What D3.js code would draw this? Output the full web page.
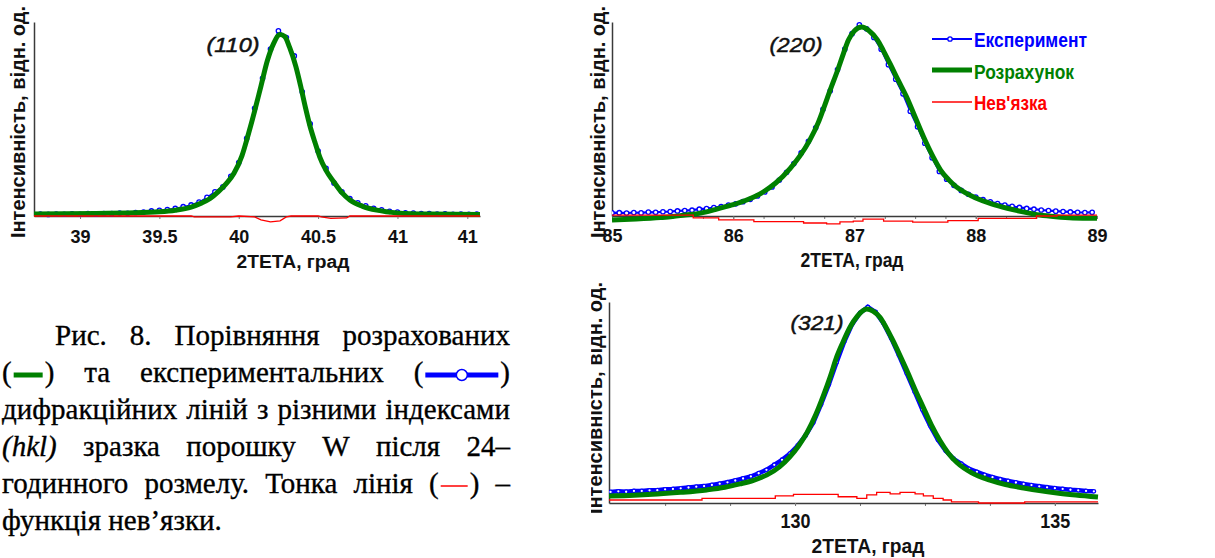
<!DOCTYPE html>
<html>
<head>
<meta charset="utf-8">
<script src="https://cdn.jsdelivr.net/npm/d3@7"></script>
<style>
body { margin: 0; background: #fff; }
svg { display: block; }
</style>
</head>
<body>
<svg id="fig" width="1215" height="558"></svg>
<script>
// Data: [2theta, intensity] with 0 = axis line, 100 = top of y axis

// (110) peak
var calc110 = [[38.71,1.0],[38.9,1.1],[39.1,1.3],[39.3,1.6],[39.5,2.2],[39.6,3.0],[39.7,4.6],[39.76,6.5],[39.82,9.0],[39.87,12.4],[39.92,16.5],[39.97,22],[40.02,31],[40.06,42],[40.1,54],[40.14,67],[40.18,80],[40.22,89],[40.26,93.5],[40.29,92.5],[40.32,87],[40.36,77],[40.39,67],[40.42,56],[40.45,46],[40.48,38],[40.51,30.5],[40.55,23.5],[40.6,17.5],[40.65,12],[40.7,8.2],[40.78,5.0],[40.87,3.0],[41.0,1.6],[41.2,1.0],[41.52,0.8]];
var exp110 = [[38.75,1.0],[38.80,0.8],[38.85,1.0],[38.90,0.9],[38.95,1.1],[39.00,0.9],[39.05,1.2],[39.10,1.0],[39.15,1.3],[39.20,1.2],[39.25,1.5],[39.30,1.4],[39.35,1.8],[39.40,2.0],[39.45,2.6],[39.50,2.9],[39.55,3.3],[39.60,3.9],[39.65,4.8],[39.70,5.7],[39.75,7.2],[39.80,9.6],[39.85,12.5],[39.90,15.0],[39.95,20.5],[40.00,27.5],[40.05,40.0],[40.10,55.5],[40.15,71.0],[40.20,86.0],[40.25,95.5],[40.30,92.0],[40.35,82.5],[40.40,64.0],[40.45,47.5],[40.50,33.5],[40.55,24.5],[40.60,17.0],[40.65,12.5],[40.70,9.0],[40.75,6.8],[40.80,5.2],[40.85,4.0],[40.90,3.2],[40.95,2.4],[41.00,2.0],[41.05,1.6],[41.10,1.5],[41.15,1.2],[41.20,1.3],[41.25,1.0],[41.30,1.1],[41.35,0.9],[41.40,1.0],[41.45,0.9],[41.50,1.0]];
var res110 = [[38.71,0],[39.7,0],[39.72,-0.5],[39.95,-0.5],[40.0,0],[40.1,-0.5],[40.14,-2],[40.2,-3],[40.26,-2.5],[40.3,-0.5],[40.33,0],[40.5,0],[40.52,-0.5],[40.58,-1.2],[40.68,-1],[40.7,0],[41.52,0]];
var ticks110 = [39, 39.5, 40, 40.5, 41, 41.44];
var tickLabels110 = ["39", "39.5", "40", "40.5", "41", "41"];

// (220) peak
var calc220 = [[85.0,-2.0],[85.2,-1.5],[85.4,-0.8],[85.5,-0.3],[85.6,0.5],[85.73,1.5],[85.85,3.3],[85.99,5.7],[86.1,8.0],[86.25,12.5],[86.35,17],[86.47,24.6],[86.55,31],[86.63,39],[86.7,48],[86.74,54.6],[86.8,65],[86.86,75],[86.91,84],[86.95,90.7],[87.0,95.5],[87.06,97.4],[87.12,95.5],[87.19,90.7],[87.24,85],[87.29,78.9],[87.36,70],[87.43,61.3],[87.5,51],[87.57,40.7],[87.64,31.5],[87.71,23.7],[87.78,18.5],[87.84,15],[87.92,11.8],[88.0,9.3],[88.13,6.3],[88.26,4.0],[88.4,2.0],[88.53,0.5],[88.66,-0.4],[88.8,-1.0],[89.0,-1.2]];
var exp220 = [[85.00,1.6],[85.06,1.7],[85.12,1.5],[85.18,1.8],[85.24,1.6],[85.30,2.0],[85.36,1.9],[85.42,2.2],[85.48,2.3],[85.54,2.6],[85.60,2.8],[85.66,3.0],[85.72,3.5],[85.78,3.8],[85.84,4.3],[85.90,4.8],[85.96,5.6],[86.02,6.3],[86.08,7.4],[86.14,8.6],[86.20,10.3],[86.26,12.4],[86.32,15.0],[86.38,18.5],[86.44,22.5],[86.50,27.0],[86.56,32.5],[86.62,38.5],[86.68,45.5],[86.74,55.0],[86.80,64.5],[86.86,75.5],[86.92,86.0],[86.98,94.0],[87.04,98.5],[87.10,96.5],[87.16,92.0],[87.22,86.0],[87.28,78.0],[87.34,70.5],[87.40,63.0],[87.46,54.0],[87.52,46.0],[87.58,37.5],[87.64,30.0],[87.70,23.0],[87.76,19.0],[87.82,15.8],[87.88,13.2],[87.94,11.2],[88.00,9.8],[88.06,8.4],[88.12,7.3],[88.18,6.4],[88.24,5.6],[88.30,5.0],[88.36,4.4],[88.42,3.9],[88.48,3.5],[88.54,3.1],[88.60,2.8],[88.66,2.5],[88.72,2.3],[88.78,2.1],[88.84,1.9],[88.90,1.8],[88.96,1.9]];
var res220 = [[85.0,0.5],[85.67,-1.0],[85.88,-2.0],[86.17,-2.9],[86.58,-3.6],[86.77,-4.1],[86.88,-3.0],[86.99,-2.6],[87.07,-1.6],[87.24,-2.6],[87.48,-3.2],[87.77,-2.4],[88.02,-1.2],[88.50,0],[88.67,0.5],[89.0,0.5]];
var ticks220 = [85, 86, 87, 88, 89];
var tickLabels220 = ["85", "86", "87", "88", "89"];
var minor220 = [85.25,85.5,85.75,86,86.25,86.5,86.75,87,87.25,87.5,87.75,88,88.25,88.5,88.75];

// (321) peak
var calc321 = [[126.42,3.5],[126.9,3.9],[127.35,4.5],[127.8,5.3],[128.3,6.5],[128.65,7.8],[128.94,9.5],[129.2,11.3],[129.46,14],[129.7,18],[129.9,23],[130.07,28.5],[130.23,35],[130.4,44],[130.54,53],[130.68,63],[130.8,72.6],[130.93,80.5],[131.06,87.6],[131.2,93],[131.38,96.5],[131.5,95.5],[131.63,92.5],[131.75,87.5],[131.88,81],[132.0,74.5],[132.15,66],[132.3,57],[132.46,48],[132.62,39],[132.79,31],[132.95,24.8],[133.12,20],[133.4,15],[133.75,11.4],[134.05,9.2],[134.4,7.5],[134.7,6.2],[135.04,5.0],[135.4,4.0],[135.83,3.0]];
var exp321 = [[126.45,5.5],[126.60,5.8],[126.75,5.6],[126.90,6.0],[127.05,6.0],[127.20,6.3],[127.35,6.4],[127.50,6.8],[127.65,7.0],[127.80,7.3],[127.95,7.7],[128.10,8.1],[128.25,8.4],[128.40,9.0],[128.55,9.6],[128.70,10.3],[128.85,11.2],[129.00,12.2],[129.15,13.2],[129.30,14.8],[129.45,16.5],[129.60,19.0],[129.75,21.5],[129.90,24.5],[130.05,28.5],[130.20,33.5],[130.35,40.0],[130.50,49.0],[130.65,59.0],[130.80,70.0],[130.95,80.5],[131.10,89.0],[131.25,94.5],[131.40,97.5],[131.55,95.0],[131.70,89.5],[131.85,82.0],[132.00,73.5],[132.15,64.5],[132.30,55.5],[132.45,46.5],[132.60,38.5],[132.75,31.5],[132.90,26.0],[133.05,22.0],[133.20,19.5],[133.35,17.0],[133.50,15.5],[133.65,14.0],[133.80,12.8],[133.95,11.8],[134.10,11.0],[134.25,10.2],[134.40,9.5],[134.55,8.9],[134.70,8.3],[134.85,7.8],[135.00,7.4],[135.15,7.0],[135.30,6.6],[135.45,6.3],[135.60,6.0],[135.75,5.8]];
var res321 = [[126.42,1.5],[128.21,2.3],[129.62,3.5],[129.97,4.3],[130.83,3.1],[131.19,2.3],[131.38,4.0],[131.57,5.3],[131.83,4.5],[132.02,5.3],[132.31,4.5],[132.47,3.5],[132.66,2.3],[132.85,1.5],[133.01,0.6],[133.53,0.0],[134.42,0.6],[135.83,0.6]];
var ticks321 = [130, 135];
var tickLabels321 = ["130", "135"];
var minor321 = [127.5, 128.75, 130, 131.25, 132.5, 133.75, 135];

var legendNames = ["Експеримент", "Розрахунок", "Нев'язка"];
var yTitle = "Інтенсивність, відн. од.";
var xTitle = "2ТЕТА, град";

var captionLines = [
    [[{t:"Рис."}], [{t:"8."}], [{t:"Порівняння"}], [{t:"розрахованих"}]],
    [[{t:"("}, {s:"calc"}, {t:")"}], [{t:"та"}], [{t:"експериментальних"}], [{t:"("}, {s:"exp"}, {t:")"}]],
    [[{t:"дифракційних"}], [{t:"ліній"}], [{t:"з"}], [{t:"різними"}], [{t:"індексами"}]],
    [[{t:"(hkl)", i:true}], [{t:"зразка"}], [{t:"порошку"}], [{t:"W"}], [{t:"після"}], [{t:"24–"}]],
    [[{t:"годинного"}], [{t:"розмелу."}], [{t:"Тонка"}], [{t:"лінія"}], [{t:"("}, {s:"res"}, {t:")"}], [{t:"–"}]],
    [[{t:"функція"}], [{t:"нев’язки."}]]
];

var BLUE = "#0000ff", GREEN = "#008000", RED = "#ff0000", AXIS = "#3a3a3a";
var SANS = "'Liberation Sans', Arial, sans-serif";
var SERIF = "'Liberation Serif', 'Times New Roman', 'DejaVu Serif', serif";

var svg = d3.select("#fig");

var panels = [
    {name:"110", calc:calc110, exp:exp110, res:res110, dom:[38.71,41.52],
     left:34, right:480, top:22, bottom:216,
     ticks:ticks110, labels:tickLabels110, minor:[], tickFs:18, tickY:27, tickLen:null,
     titleX:293, titleY:268, titleFs:18, titleLen:113,
     yLabX:25, yLabY:122, clipLab:false,
     tag:"(110)", tagX:233, tagY:52, expW:1.5, ptR:2.2, resCurve:d3.curveLinear},
    {name:"220", calc:calc220, exp:exp220, res:res220, dom:[85,89],
     left:612, right:1097, top:22, bottom:216,
     ticks:ticks220, labels:tickLabels220, minor:minor220, tickFs:18, tickY:26, tickLen:null,
     titleX:852, titleY:267, titleFs:20, titleLen:103,
     yLabX:605, yLabY:122, clipLab:false,
     tag:"(220)", tagX:796, tagY:52, expW:2.2, ptR:2.2, resCurve:d3.curveStepAfter},
    {name:"321", calc:calc321, exp:exp321, res:res321, dom:[126.42,135.83],
     left:609, right:1098, top:302, bottom:503,
     ticks:ticks321, labels:tickLabels321, minor:minor321, tickFs:20, tickY:25, tickLen:30,
     titleX:868, titleY:553, titleFs:20, titleLen:113,
     yLabX:602, yLabY:398, clipLab:true,
     tag:"(321)", tagX:817, tagY:330, expW:4.5, ptR:1.8, resCurve:d3.curveStepAfter}
];

panels.forEach(drawPanel);
drawLegend();
drawCaption();

//Draw one diffraction panel
function drawPanel(p) {
    var x = d3.scaleLinear().domain(p.dom).range([p.left, p.right]);
    var y = d3.scaleLinear().domain([0, 100]).range([p.bottom, p.top]);
    var g = svg.append("g").attr("font-family", SANS);

    g.append("clipPath").attr("id", "clip" + p.name)
        .append("rect")
        .attr("x", p.left).attr("y", p.top - 12)
        .attr("width", p.right - p.left + 1).attr("height", p.bottom - p.top + 24);

    //minor ticks
    if (p.minor.length) {
        g.append("g")
            .attr("transform", "translate(0," + p.bottom + ")")
            .call(d3.axisBottom(x).tickValues(p.minor).tickFormat("").tickSize(3).tickSizeOuter(0))
            .call(function(s) {
                s.select(".domain").remove();
                s.selectAll(".tick line").attr("stroke", "#777");
            });
    }

    //x axis
    var xa = g.append("g")
        .attr("transform", "translate(0," + p.bottom + ")")
        .call(d3.axisBottom(x).tickValues(p.ticks)
            .tickFormat(function(d, i) { return p.labels[i]; })
            .tickSize(3).tickSizeOuter(0));
    xa.attr("font-family", SANS);
    xa.select(".domain").attr("stroke", AXIS).attr("stroke-width", 1.5);
    xa.selectAll(".tick line").attr("stroke", "#777");
    xa.selectAll(".tick text")
        .attr("y", p.tickY).attr("dy", null)
        .attr("fill", "#111")
        .style("font-size", p.tickFs + "px")
        .style("font-weight", "bold")
        .each(function() {
            if (p.tickLen) {
                d3.select(this).attr("textLength", p.tickLen).attr("lengthAdjust", "spacingAndGlyphs");
            }
        });

    //y axis (plain line)
    var ya = g.append("g")
        .attr("transform", "translate(" + p.left + ",0)")
        .call(d3.axisLeft(y).tickValues([]).tickSizeOuter(0));
    ya.select(".domain").attr("stroke", AXIS).attr("stroke-width", 1.5);

    var line = d3.line().x(function(d) { return x(d[0]); }).y(function(d) { return y(d[1]); });
    var plot = g.append("g").attr("clip-path", "url(#clip" + p.name + ")");

    //experiment
    plot.append("path")
        .datum(p.exp)
        .attr("d", line.curve(d3.curveLinear))
        .attr("fill", "none")
        .attr("stroke", BLUE)
        .attr("stroke-width", p.expW);
    plot.selectAll(".pt")
        .data(p.exp)
        .enter()
        .append("circle")
        .attr("class", "pt")
        .attr("cx", function(d) { return x(d[0]); })
        .attr("cy", function(d) { return y(d[1]); })
        .attr("r", p.ptR)
        .attr("fill", "#fff")
        .attr("stroke", BLUE)
        .attr("stroke-width", 1.3);

    //calculation
    plot.append("path")
        .datum(p.calc)
        .attr("d", line.curve(d3.curveMonotoneX))
        .attr("fill", "none")
        .attr("stroke", GREEN)
        .attr("stroke-width", 5)
        .attr("stroke-linejoin", "round");

    //residual
    plot.append("path")
        .datum(p.res)
        .attr("d", line.curve(p.resCurve))
        .attr("fill", "none")
        .attr("stroke", RED)
        .attr("stroke-width", 1.3);

    //peak tag
    g.append("text")
        .attr("x", p.tagX).attr("y", p.tagY)
        .attr("text-anchor", "middle")
        .style("font-size", "21px")
        .style("font-style", "italic")
        .attr("fill", "#111")
        .attr("stroke", "#111").attr("stroke-width", 0.5)
        .attr("textLength", 53).attr("lengthAdjust", "spacingAndGlyphs")
        .text(p.tag);

    //x title
    g.append("text")
        .attr("x", p.titleX).attr("y", p.titleY)
        .attr("text-anchor", "middle")
        .style("font-size", p.titleFs + "px")
        .style("font-weight", "bold")
        .attr("fill", "#111")
        .attr("textLength", p.titleLen).attr("lengthAdjust", "spacingAndGlyphs")
        .text(xTitle);

    //y title (the lower right one is cut at the left edge)
    var lab = g.append("g");
    if (p.clipLab) {
        lab.append("clipPath").attr("id", "lab" + p.name)
            .append("rect").attr("x", 591).attr("y", 270).attr("width", 30).attr("height", 260);
        lab.attr("clip-path", "url(#lab" + p.name + ")");
    }
    lab.append("text")
        .attr("transform", "translate(" + p.yLabX + "," + p.yLabY + ") rotate(-90)")
        .attr("text-anchor", "middle")
        .style("font-size", "20px")
        .style("font-weight", "bold")
        .attr("fill", "#111")
        .attr("textLength", 232).attr("lengthAdjust", "spacingAndGlyphs")
        .text(yTitle);
}

//Legend of the (220) panel
function drawLegend() {
    var lg = svg.append("g").attr("font-family", SANS);
    var rows = [
        {c:BLUE, w:2.2, len:113, ly:39, ty:47},
        {c:GREEN, w:5, len:100, ly:70, ty:79},
        {c:RED, w:1.3, len:73, ly:102, ty:110}
    ];
    rows.forEach(function(r, i) {
        lg.append("line")
            .attr("x1", 932).attr("x2", 972)
            .attr("y1", r.ly).attr("y2", r.ly)
            .attr("stroke", r.c).attr("stroke-width", r.w);
        if (i == 0) {
            lg.append("circle").attr("cx", 950).attr("cy", r.ly).attr("r", 2.2)
                .attr("fill", "#fff").attr("stroke", BLUE).attr("stroke-width", 1.3);
        }
        lg.append("text")
            .attr("x", 974).attr("y", r.ty)
            .style("font-size", "20px")
            .style("font-weight", "bold")
            .attr("fill", r.c)
            .attr("textLength", r.len).attr("lengthAdjust", "spacingAndGlyphs")
            .text(legendNames[i]);
    });
}

//Justified caption text
function drawCaption() {
    var cg = svg.append("g").attr("font-family", SERIF);
    var fs = 29, left = 2, right = 510, base0 = 345, lh = 37;
    var symW = {calc:33, exp:77, res:31};

    captionLines.forEach(function(tokens, li) {
        var base = base0 + li * lh;
        var start = li == 0 ? 55 : left;
        var groups = [];
        var total = 0;
        tokens.forEach(function(tok) {
            var tg = cg.append("g");
            var cx = 0;
            tok.forEach(function(piece) {
                if (piece.t) {
                    var t = tg.append("text")
                        .attr("x", cx).attr("y", 0)
                        .attr("font-family", SERIF)
                        .attr("font-size", fs)
                        .attr("font-style", piece.i ? "italic" : "normal")
                        .attr("fill", "#000")
                        .attr("stroke", "#000").attr("stroke-width", 0.35)
                        .text(piece.t);
                    cx += t.node().getComputedTextLength();
                } else {
                    var w = symW[piece.s];
                    var my = -7;
                    if (piece.s == "calc") {
                        tg.append("line").attr("x1", cx + 2).attr("x2", cx + w - 2)
                            .attr("y1", my).attr("y2", my)
                            .attr("stroke", GREEN).attr("stroke-width", 5);
                    } else if (piece.s == "exp") {
                        tg.append("line").attr("x1", cx + 2).attr("x2", cx + w - 2)
                            .attr("y1", my).attr("y2", my)
                            .attr("stroke", BLUE).attr("stroke-width", 5);
                        tg.append("circle").attr("cx", cx + w / 2).attr("cy", my).attr("r", 5.5)
                            .attr("fill", "#fff").attr("stroke", BLUE).attr("stroke-width", 1.5);
                    } else {
                        tg.append("line").attr("x1", cx + 2).attr("x2", cx + w - 2)
                            .attr("y1", my).attr("y2", my)
                            .attr("stroke", RED).attr("stroke-width", 1.5);
                    }
                    cx += w;
                }
            });
            groups.push({g:tg, w:cx});
            total += cx;
        });
        var last = li == captionLines.length - 1;
        var gap = last ? fs * 0.25 : (right - start - total) / (groups.length - 1);
        var pos = start;
        groups.forEach(function(o) {
            o.g.attr("transform", "translate(" + pos + "," + base + ")");
            pos += o.w + gap;
        });
    });
}
</script>
</body>
</html>
